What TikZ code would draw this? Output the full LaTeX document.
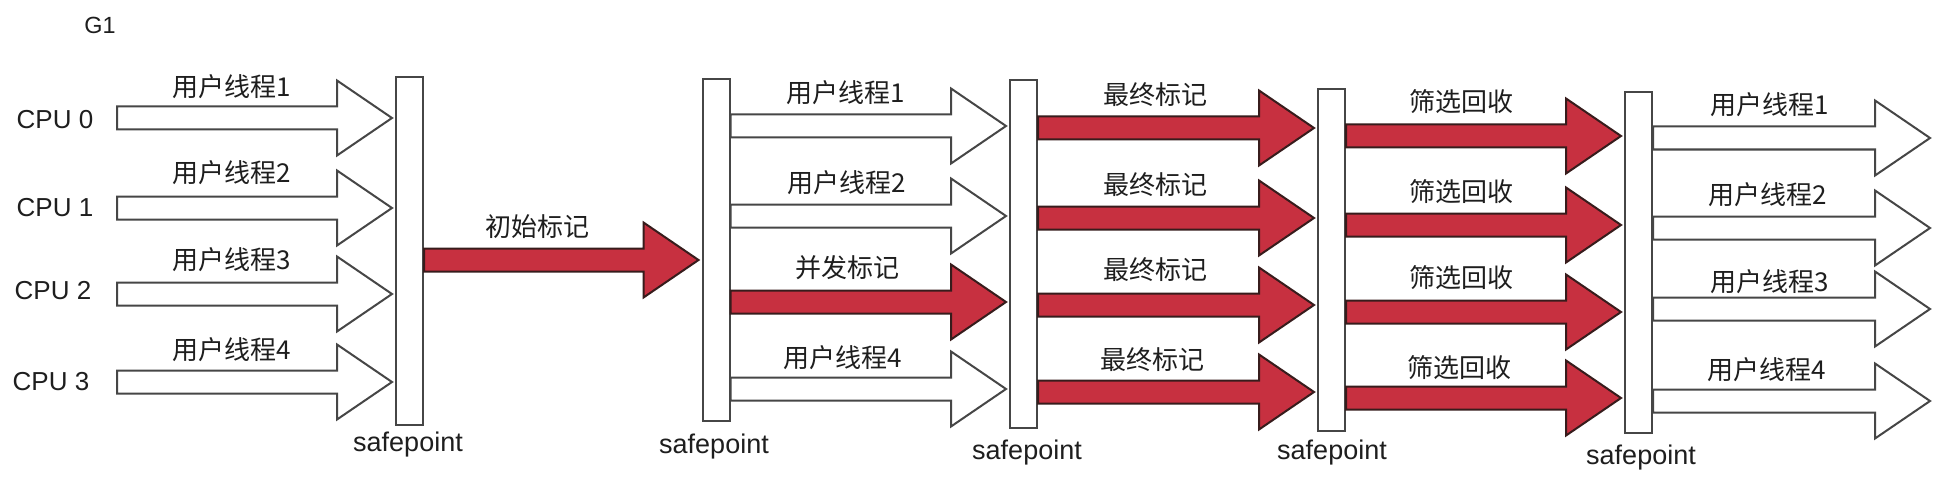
\documentclass[tikz,border=0pt]{standalone}
\usepackage{fontspec}
\setmainfont{Liberation Sans}
\newfontfamily\cjk{Noto Sans CJK SC}
\usetikzlibrary{calc}
\definecolor{gcred}{RGB}{199,48,64}
\definecolor{redline}{RGB}{55,28,28}
\definecolor{grayline}{RGB}{70,70,70}
\definecolor{txt}{RGB}{30,30,30}
\tikzset{
  whitearrow/.style={draw=grayline, fill=white, line width=1pt, line join=miter},
  redarrow/.style={draw=redline, fill=gcred, line width=1pt, line join=miter},
  spbar/.style={draw=grayline, fill=white, line width=1pt, minimum width=13.5pt, inner sep=0pt},
  lbl/.style={font=\cjk\fontsize{13pt}{15pt}\selectfont, text=txt, inner sep=0pt},
  cpu/.style={font=\fontsize{13pt}{15pt}\selectfont, text=txt, inner sep=0pt},
  splbl/.style={font=\fontsize{13.5pt}{16pt}\selectfont, text=txt, inner sep=0pt},
  title/.style={font=\fontsize{11.7pt}{14pt}\selectfont, text=txt, inner sep=0pt}
}
\newcommand\gcarrow[3]{%
  \draw[#1] let \p1=(#2), \p2=(#3) in
    (\x1,\y1+5.75pt) -- (\x2-29pt,\y1+5.75pt) -- (\x2-29pt,\y1+18.75pt) --
    (\x2-1.5pt,\y1) -- (\x2-29pt,\y1-18.75pt) -- (\x2-29pt,\y1-5.75pt) --
    (\x1,\y1-5.75pt) -- cycle;}
\begin{document}
\begin{tikzpicture}[x=0.5pt,y=-0.5pt]
\useasboundingbox (0,0) rectangle (1943,492);
\fill[white] (0,0) rectangle (1943,492);

% title
\node[title] (g1) at (100,25.5) {G1};

% safepoint bars
\node[spbar, minimum height=174pt] (b1) at (409.5,251) {};
\node[spbar, minimum height=171pt] (b2) at (716,250) {};
\node[spbar, minimum height=174pt] (b3) at (1023.5,254) {};
\node[spbar, minimum height=171pt] (b4) at (1331.5,260) {};
\node[spbar, minimum height=170.5pt] (b5) at (1638.5,262.5) {};

\node[splbl] (sp1) at (408,445) {safepoint};
\node[splbl] (sp2) at (714,447) {safepoint};
\node[splbl] (sp3) at (1027,453) {safepoint};
\node[splbl] (sp4) at (1332,453) {safepoint};
\node[splbl] (sp5) at (1641,458) {safepoint};

% CPU labels
\node[cpu] (cpu0) at (55,120) {CPU 0};
\node[cpu] (cpu1) at (55,208) {CPU 1};
\node[cpu] (cpu2) at (53,291) {CPU 2};
\node[cpu] (cpu3) at (51,382) {CPU 3};

% group 1: CPUs -> safepoint 1
\coordinate (s1) at (117,118);
\coordinate (s2) at (117,208);
\coordinate (s3) at (117,294);
\coordinate (s4) at (117,382);
\gcarrow{whitearrow}{s1}{b1.west |- s1}
\gcarrow{whitearrow}{s2}{b1.west |- s2}
\gcarrow{whitearrow}{s3}{b1.west |- s3}
\gcarrow{whitearrow}{s4}{b1.west |- s4}
\node[lbl] (u11) at (232,87) {用户线程1};
\node[lbl] (u12) at (232,173) {用户线程2};
\node[lbl] (u13) at (232,260) {用户线程3};
\node[lbl] (u14) at (232,350) {用户线程4};

% initial mark
\coordinate (r0) at (0,260);
\gcarrow{redarrow}{b1.east |- r0}{b2.west |- r0}
\node[lbl] (init) at (537,227) {初始标记};

% group 2: safepoint 2 -> safepoint 3
\coordinate (p1) at (0,126);
\coordinate (p2) at (0,216);
\coordinate (p3) at (0,302);
\coordinate (p4) at (0,389);
\gcarrow{whitearrow}{b2.east |- p1}{b3.west |- p1}
\gcarrow{whitearrow}{b2.east |- p2}{b3.west |- p2}
\gcarrow{redarrow}{b2.east |- p3}{b3.west |- p3}
\gcarrow{whitearrow}{b2.east |- p4}{b3.west |- p4}
\node[lbl] (u21) at (846,93) {用户线程1};
\node[lbl] (u22) at (847,183) {用户线程2};
\node[lbl] (conc) at (847,268) {并发标记};
\node[lbl] (u24) at (843,358) {用户线程4};

% group 3: safepoint 3 -> safepoint 4
\coordinate (q1) at (0,128);
\coordinate (q2) at (0,218);
\coordinate (q3) at (0,305);
\coordinate (q4) at (0,392);
\gcarrow{redarrow}{b3.east |- q1}{b4.west |- q1}
\gcarrow{redarrow}{b3.east |- q2}{b4.west |- q2}
\gcarrow{redarrow}{b3.east |- q3}{b4.west |- q3}
\gcarrow{redarrow}{b3.east |- q4}{b4.west |- q4}
\node[lbl] (f1) at (1155,95) {最终标记};
\node[lbl] (f2) at (1155,185) {最终标记};
\node[lbl] (f3) at (1155,270) {最终标记};
\node[lbl] (f4) at (1152,360) {最终标记};

% group 4: safepoint 4 -> safepoint 5
\coordinate (t1) at (0,136);
\coordinate (t2) at (0,225);
\coordinate (t3) at (0,312);
\coordinate (t4) at (0,398);
\gcarrow{redarrow}{b4.east |- t1}{b5.west |- t1}
\gcarrow{redarrow}{b4.east |- t2}{b5.west |- t2}
\gcarrow{redarrow}{b4.east |- t3}{b5.west |- t3}
\gcarrow{redarrow}{b4.east |- t4}{b5.west |- t4}
\node[lbl] (c1) at (1461,102) {筛选回收};
\node[lbl] (c2) at (1461,192) {筛选回收};
\node[lbl] (c3) at (1461,278) {筛选回收};
\node[lbl] (c4) at (1459,368) {筛选回收};

% group 5: safepoint 5 -> out
\coordinate (e1) at (1933,138);
\coordinate (e2) at (1933,228);
\coordinate (e3) at (1933,309);
\coordinate (e4) at (1933,401);
\gcarrow{whitearrow}{b5.east |- e1}{e1}
\gcarrow{whitearrow}{b5.east |- e2}{e2}
\gcarrow{whitearrow}{b5.east |- e3}{e3}
\gcarrow{whitearrow}{b5.east |- e4}{e4}
\node[lbl] (u51) at (1770,105) {用户线程1};
\node[lbl] (u52) at (1768,195) {用户线程2};
\node[lbl] (u53) at (1770,282) {用户线程3};
\node[lbl] (u54) at (1767,370) {用户线程4};
\end{tikzpicture}
\end{document}
